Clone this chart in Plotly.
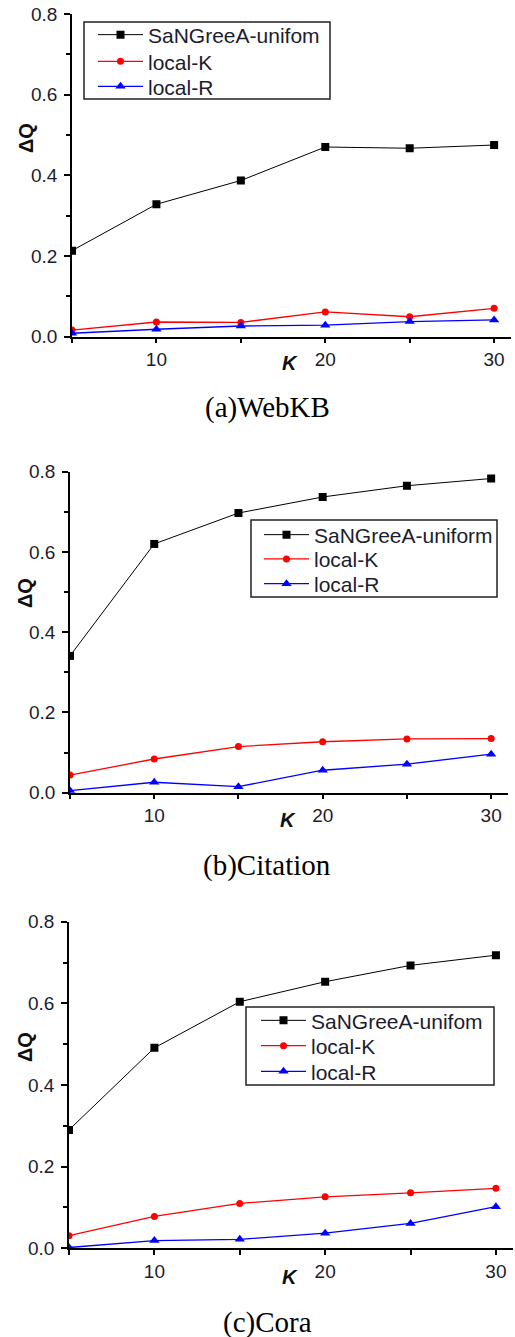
import plotly.graph_objects as go

W, H = 515, 1337

K_values = [5, 10, 15, 20, 25, 30]
x_tickvals = [5, 10, 15, 20, 25, 30]
x_ticktext = ["", "10", "", "20", "", "30"]

series_names_a = ["SaNGreeA-unifom", "local-K", "local-R"]
series_names_b = ["SaNGreeA-uniform", "local-K", "local-R"]
series_names_c = ["SaNGreeA-unifom", "local-K", "local-R"]

webkb_sangreea = [0.213, 0.328, 0.387, 0.470, 0.467, 0.475]
webkb_localK = [0.016, 0.036, 0.035, 0.061, 0.049, 0.070]
webkb_localR = [0.008, 0.018, 0.026, 0.028, 0.037, 0.041]

citation_sangreea = [0.341, 0.620, 0.697, 0.737, 0.765, 0.783]
citation_localK = [0.044, 0.084, 0.115, 0.127, 0.134, 0.135]
citation_localR = [0.005, 0.026, 0.015, 0.056, 0.071, 0.096]

cora_sangreea = [0.290, 0.491, 0.604, 0.653, 0.693, 0.718]
cora_localK = [0.031, 0.078, 0.110, 0.126, 0.136, 0.147]
cora_localR = [0.002, 0.019, 0.022, 0.037, 0.061, 0.102]

panel_titles = ["(a)WebKB", "(b)Citation", "(c)Cora"]

# pixel layout per panel
panels = [
    dict(xl=72, xr=511, yt=14, yb=336.5, box=(84, 22, 330, 99), rows=(35, 61.7, 86.7), txt=149,
         ty=408, kx=290, ky=363, qx=26, qy=138,
         data=[webkb_sangreea, webkb_localK, webkb_localR], names=series_names_a),
    dict(xl=70, xr=508, yt=471.7, yb=792.7, box=(251, 520, 497, 597), rows=(535, 559.3, 584), txt=315,
         ty=865, kx=288, ky=820, qx=25, qy=593,
         data=[citation_sangreea, citation_localK, citation_localR], names=series_names_b),
    dict(xl=69, xr=513, yt=921.7, yb=1248.3, box=(246, 1007, 494, 1085), rows=(1020.7, 1046, 1071.7), txt=312,
         ty=1322, kx=290, ky=1277, qx=25, qy=1047,
         data=[cora_sangreea, cora_localK, cora_localR], names=series_names_c),
]

colors = ["#000000", "#ff0000", "#0000ff"]
symbols = ["square", "circle", "triangle-up"]
msizes = [8, 7, 9]
lwidths = [1, 1.3, 1.3]

fig = go.Figure()
layout = dict(width=W, height=H, margin=dict(l=0, r=0, t=0, b=0, autoexpand=False),
              paper_bgcolor="white", plot_bgcolor="white", showlegend=True)
annotations = []
shapes = []

tickfont = dict(family="Liberation Sans, Arial, sans-serif", size=19, color="#1c1c2e")
legfont = dict(family="Liberation Sans, Arial, sans-serif", size=21, color="#1c1c2e")

for i, p in enumerate(panels):
    n = i + 1
    xa = "xaxis" if n == 1 else f"xaxis{n}"
    ya = "yaxis" if n == 1 else f"yaxis{n}"
    xref = "x" if n == 1 else f"x{n}"
    yref = "y" if n == 1 else f"y{n}"
    for j in range(3):
        k = i * 3 + j + 1
        lg = "legend" if k == 1 else f"legend{k}"
        fig.add_trace(go.Scatter(
            x=K_values, y=p["data"][j], name=p["names"][j], mode="lines+markers",
            line=dict(color=colors[j], width=lwidths[j]),
            marker=dict(symbol=symbols[j], size=msizes[j], color=colors[j]),
            xaxis=xref, yaxis=yref, legend=lg))
        layout[lg] = dict(x=(p["txt"] - 56) / W, y=1 - p["rows"][j] / H, xanchor="left", yanchor="middle",
                          borderwidth=0, bgcolor="rgba(0,0,0,0)", font=legfont,
                          itemwidth=45, tracegroupgap=0)
    layout[xa] = dict(domain=[p["xl"] / W, p["xr"] / W], range=[5, 31], anchor=yref, automargin=False,
                      showline=True, linecolor="black", linewidth=1.5, showgrid=False, zeroline=False,
                      tickmode="array", tickvals=x_tickvals, ticktext=x_ticktext,
                      ticks="outside", ticklen=5, tickwidth=1.5, tickcolor="black",
                      tickfont=tickfont, ticklabelstandoff=0)
    layout[ya] = dict(domain=[1 - p["yb"] / H, 1 - p["yt"] / H], range=[0, 0.8], anchor=xref, automargin=False,
                      showline=True, linecolor="black", linewidth=1.5, showgrid=False, zeroline=False,
                      dtick=0.2, tick0=0, tickformat=".1f",
                      ticks="outside", ticklen=6, tickwidth=1.5, tickcolor="black",
                      minor=dict(dtick=0.1, ticks="outside", ticklen=4, tickwidth=1.5, tickcolor="black"),
                      tickfont=tickfont, ticklabelstandoff=3)
    bx0, by0, bx1, by1 = p["box"]
    shapes.append(dict(type="rect", xref="paper", yref="paper", x0=bx0 / W, x1=bx1 / W,
                       y0=1 - by1 / H, y1=1 - by0 / H, line=dict(color="#222222", width=1.5),
                       fillcolor="rgba(0,0,0,0)", layer="above"))
    annotations.append(dict(text="<b><i>K</i></b>", x=p["kx"] / W, y=1 - p["ky"] / H, xref="paper", yref="paper",
                            xanchor="center", yanchor="middle", showarrow=False,
                            font=dict(family="Liberation Sans, Arial, sans-serif", size=20, color="#111")))
    annotations.append(dict(text="<b>ΔQ</b>", x=p["qx"] / W, y=1 - p["qy"] / H, xref="paper", yref="paper",
                            xanchor="center", yanchor="middle", showarrow=False, textangle=-90,
                            font=dict(family="Liberation Sans, Arial, sans-serif", size=20, color="#111")))
    annotations.append(dict(text=panel_titles[i], x=267 / W, y=1 - p["ty"] / H, xref="paper", yref="paper",
                            xanchor="center", yanchor="middle", showarrow=False,
                            font=dict(family="Liberation Serif, Times New Roman, serif", size=29, color="#000")))

layout["annotations"] = annotations
layout["shapes"] = shapes
fig.update_layout(**layout)
fig.write_html("out.html")
